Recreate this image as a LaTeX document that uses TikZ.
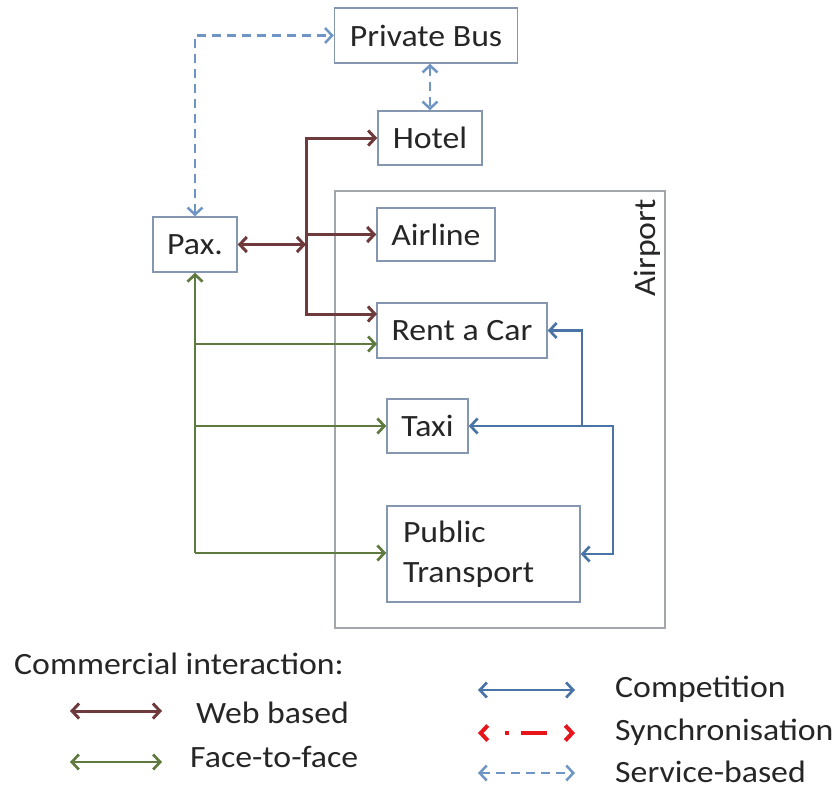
\documentclass[tikz,border=0pt]{standalone}
\usepackage{fontspec}
\setmainfont{Carlito}[FakeStretch=1.09]
\usetikzlibrary{arrows.meta}
\definecolor{boxcol}{HTML}{8496B0}
\definecolor{airportcol}{HTML}{A3A7AC}
\definecolor{webcol}{HTML}{6E3A3C}
\definecolor{ffcol}{HTML}{5F7A3E}
\definecolor{compcol}{HTML}{4B74A6}
\definecolor{svccol}{HTML}{6F95C6}
\definecolor{synccol}{HTML}{E8141C}
\tikzset{
  tip/.tip={Straight Barb[length=7pt,width=15pt]},
  nbox/.style={draw=boxcol,line width=1.5pt,inner sep=0pt,font=\fontsize{31}{40}\selectfont,text=black!85},
  web/.style={draw=webcol,line width=3pt,arrows={tip-tip}},
  ff/.style={draw=ffcol,line width=2.7pt,arrows={tip-tip}},
  comp/.style={draw=compcol,line width=2.7pt,arrows={tip-tip}},
  svc/.style={draw=svccol,line width=2.5pt,dash pattern=on 9pt off 6pt,arrows={tip-tip}},
  sync/.style={draw=synccol,line width=4pt,dash pattern=on 0pt off 22pt on 4pt off 12pt on 26pt off 100pt,arrows={tip-tip}},
  legtxt/.style={anchor=west,inner sep=0pt,font=\fontsize{31}{38}\selectfont,text=black!85},
}
\begin{document}
\begin{tikzpicture}[x=1pt,y=-1pt]
\useasboundingbox (0,0) rectangle (833,796);
% airport frame
\draw[airportcol,line width=1.6pt] (335,191) rectangle (665,628);
\node[rotate=90,inner sep=0pt,font=\fontsize{31}{38}\selectfont,text=black!85] (airport) at (647,248) {Airport};
% nodes
\node[nbox,minimum width=84pt,minimum height=55pt] (pax) at (195,244.5) {Pax.};
\node[nbox,minimum width=183pt,minimum height=55pt] (bus) at (426,35.5) {Private Bus};
\node[nbox,minimum width=104pt,minimum height=54pt] (hotel) at (430,138) {Hotel};
\node[nbox,minimum width=118pt,minimum height=53pt] (airline) at (436,234.5) {Airline};
\node[nbox,minimum width=170pt,minimum height=55pt] (rent) at (462,330.5) {Rent a Car};
\node[nbox,minimum width=81pt,minimum height=54pt] (taxi) at (427.5,426) {Taxi};
\node[nbox,minimum height=96pt,text width=161pt,inner xsep=16pt,align=left] (pt) at (483.5,554) {Public\\Transport};
% coordinates
\coordinate (wj) at (306,244.5);
\coordinate (rentW) at (377,314);
\coordinate (rentF) at (377,344);
\coordinate (fb) at (195,553);
\coordinate (cR) at (613,426);
\coordinate (cM) at (582,426);
% web based
\draw[web] (wj) -- (pax.east);
\draw[web,arrows={-tip}] (wj) |- (hotel.west);
\draw[web,arrows={-tip}] (wj) |- (airline.west);
\draw[web,arrows={-tip}] (wj) |- (rentW);
% face to face
\draw[ff,arrows={-tip}] (fb) -- (pax.south);
\draw[ff,arrows={-tip}] (pax.south |- rentF) -- (rentF);
\draw[ff,arrows={-tip}] (pax.south |- taxi.west) -- (taxi.west);
\draw[ff,arrows={-tip}] (fb) -- (fb -| pt.west);
% competition
\draw[comp] (taxi.east) -- (cR) |- (pt.east);
\draw[comp,arrows={-tip}] (cM) |- (rent.east);
% service based
\draw[svc] (pax.north) |- (bus.west);
\draw[svc] (bus.south -| hotel.north) -- (hotel.north);
% legend
\node[legtxt] (ci) at (14,664) {Commercial interaction:};
\coordinate (lw1) at (70,711);
\coordinate (lw2) at (162,711);
\draw[web] (lw1) -- (lw2);
\node[legtxt] (lwt) at (196,713) {Web based};
\coordinate (lf1) at (70,762);
\coordinate (lf2) at (162,762);
\draw[ff] (lf1) -- (lf2);
\node[legtxt] (lft) at (190,757) {Face-to-face};
\coordinate (lc1) at (478,690);
\coordinate (lc2) at (575,690);
\draw[comp] (lc1) -- (lc2);
\node[legtxt] (lct) at (615,689) {Competition};
\coordinate (ls1) at (478,733);
\coordinate (ls2) at (575,733);
\draw[sync] (ls1) -- (ls2);
\node[legtxt] (lst) at (615,732) {Synchronisation};
\coordinate (lv1) at (478,773);
\coordinate (lv2) at (575,773);
\draw[svc] (lv1) -- (lv2);
\node[legtxt] (lvt) at (615,772) {Service-based};
\end{tikzpicture}
\end{document}
